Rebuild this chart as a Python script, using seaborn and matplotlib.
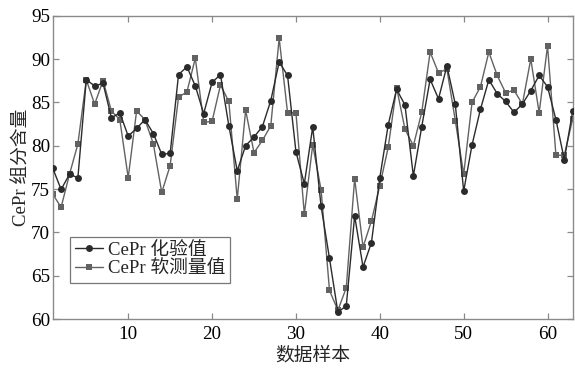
import numpy as np
import pandas as pd
import seaborn as sns
import matplotlib
matplotlib.use("Agg")
import matplotlib.pyplot as plt

# sample index 1..63
samples = list(range(1, 64))

# CePr assay values (circles)
assay = [77.4, 74.95, 76.7, 76.3, 87.6, 86.9, 87.2, 83.2, 83.8, 81.1,
         82.0, 83.0, 81.4, 79.0, 79.1, 88.2, 89.1, 86.9, 83.7, 87.3,
         88.2, 82.3, 77.1, 80.0, 81.0, 82.2, 85.2, 89.65, 88.1, 79.3,
         75.6, 82.15, 73.0, 67.0, 60.8, 61.5, 71.9, 66.0, 68.8, 76.3,
         82.4, 86.5, 84.7, 76.5, 82.2, 87.65, 85.4, 89.2, 84.8, 74.75,
         80.1, 84.2, 87.6, 86.0, 85.1, 83.85, 84.8, 86.35, 88.1, 86.8,
         83.0, 78.4, 84.0]

# CePr soft-sensor values (squares)
soft = [74.4, 72.9, 76.7, 80.2, 87.6, 84.8, 87.5, 84.0, 83.0, 76.3,
        84.0, 83.0, 80.2, 74.6, 77.7, 85.6, 86.2, 90.1, 82.7, 82.8,
        87.0, 85.1, 73.8, 84.1, 79.2, 80.6, 82.3, 92.4, 83.8, 83.8,
        72.1, 80.1, 74.9, 63.3, 61.0, 63.6, 76.2, 68.3, 71.3, 75.4,
        79.8, 86.7, 81.9, 80.0, 83.85, 90.8, 88.4, 88.85, 82.9, 76.7,
        85.0, 86.8, 90.8, 88.1, 86.1, 86.4, 84.8, 90.0, 83.8, 91.5,
        78.9, 78.9, 83.1]

label_assay = "CePr 化验值"
label_soft = "CePr 软测量值"
x_ticks = [10, 20, 30, 40, 50, 60]
y_ticks = [60, 65, 70, 75, 80, 85, 90, 95]

sns.set_theme(style="ticks")
fam = ["Liberation Serif", "Noto Sans CJK SC"]
plt.rcParams["font.family"] = fam
plt.rcParams["axes.unicode_minus"] = False

df = pd.DataFrame({"x": samples, "assay": assay, "soft": soft})

fig = plt.figure(figsize=(5.75, 3.69), dpi=100)
ax = fig.add_axes([0.0917, 0.1355, 0.9043, 0.822])

sns.lineplot(data=df, x="x", y="soft", ax=ax, color="#626262", marker="s",
             markersize=4.2, markeredgewidth=0, linewidth=1.0,
             label=label_soft, zorder=2)
sns.lineplot(data=df, x="x", y="assay", ax=ax, color="#2b2b2b", marker="o",
             markersize=5, markeredgewidth=0, linewidth=1.0,
             label=label_assay, zorder=3)

ax.set_xlim(1, 63)
ax.set_ylim(60, 95)
ax.set_xticks(x_ticks)
ax.set_yticks(y_ticks)

for s in ax.spines.values():
    s.set_color("#8a8a8a")
    s.set_linewidth(1.0)
ax.tick_params(direction="in", length=4, width=0.9, color="#8a8a8a",
               top=True, right=True, labelsize=13.8, pad=2, labelcolor="black")
ax.tick_params(axis="x", pad=5)

ax.set_xlabel("数据样本", fontsize=13.5, labelpad=3)
ax.set_ylabel("CePr 组分含量", fontsize=13.5, labelpad=0)

h, l = ax.get_legend_handles_labels()
leg = ax.legend(h[::-1], l[::-1], loc="lower left",
                bbox_to_anchor=(0.033, 0.12), fontsize=13.5, frameon=True,
                fancybox=False, edgecolor="#777777", framealpha=1,
                handlelength=1.5, handletextpad=0.3, borderpad=0.25,
                labelspacing=0.1, borderaxespad=0)
leg.get_frame().set_linewidth(0.9)

fig.savefig("out.png", dpi=100)
